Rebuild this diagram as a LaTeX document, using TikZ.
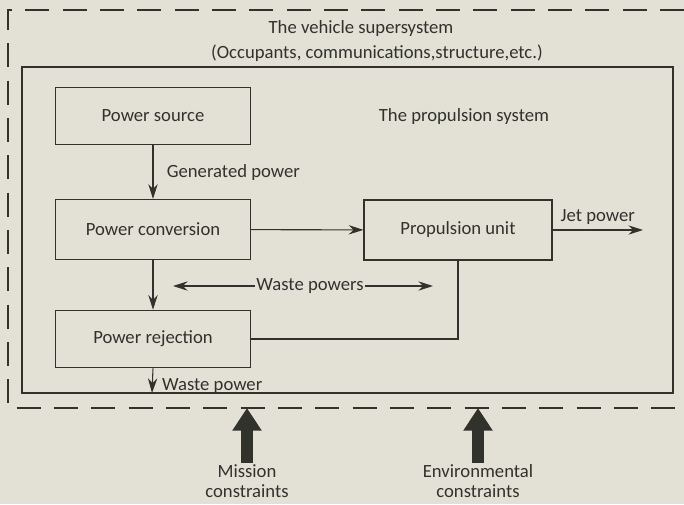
\documentclass[tikz,border=0pt]{standalone}
\usepackage{fontspec}
\setmainfont{Carlito}
\usetikzlibrary{arrows.meta,positioning}
\definecolor{paper}{RGB}{227,225,214}
\definecolor{ink}{RGB}{50,50,45}
\tikzset{
  block/.style ={rectangle,draw=ink,line width=0.9pt,minimum width=146pt,
                 minimum height=43pt,align=center,text=ink,
                 font=\fontsize{14}{16}\selectfont},
  lbl/.style   ={text=ink,inner sep=1pt,align=center,
                 font=\fontsize{14}{16.5}\selectfont},
  arr/.style   ={-{Stealth[length=11pt,width=7pt]},draw=ink,line width=0.8pt},
  link/.style  ={draw=ink,line width=0.8pt},
  bigarr/.style={-{Triangle[length=17pt,width=21pt]},draw=ink,line width=9pt},
  frame/.style ={draw=ink,line width=0.9pt},
  super/.style ={draw=ink,line width=1pt,dash pattern=on 18pt off 10pt}
}
\begin{document}
\begin{tikzpicture}[x=0.75pt,y=-0.75pt]
  \fill[paper] (0,0) rectangle (684,504);
  \useasboundingbox (0,0) rectangle (684,504);

  % Frames
  \draw[super] (684,10) -- (8,10) -- (8,408) -- (684,408);
  \draw[frame] (22,67) rectangle (673,393);
  \coordinate (edge) at (8,408);

  % Nodes
  \node (title)   [lbl] at (361,29)  {The vehicle supersystem};
  \node (occup)   [lbl] at (377,53)  {(Occupants, communications,structure,etc.)};
  \node (propsys) [lbl] at (464,117) {The propulsion system};
  \node (source)  [block] at (153,116) {Power source};
  \node (conv)    [block, minimum height=45pt] at (153,229.5) {Power conversion};
  \node (rej)     [block] at (153,339) {Power rejection};
  \node (prop)    [block, minimum width=141pt, minimum height=45pt] at (458,230) {Propulsion unit};
  \node (waste)   [lbl] at (310,286) {Waste powers};
  \coordinate (wl)    at (173,286);
  \coordinate (wr)    at (433,286);
  \coordinate (jet)   at (643,230);
  \coordinate (drain) at (152,393);
  \node (mission) [lbl, font=\fontsize{14}{15.5}\selectfont] at (247,481) {Mission\\constraints};
  \node (env)     [lbl, font=\fontsize{14}{15.5}\selectfont] at (478,481) {Environmental\\constraints};

  % Arrows
  \draw [arr] (source) -- node[lbl, right=9pt] {Generated power} (conv);
  \draw [arr] (conv) -- (prop);
  \draw [arr] (prop) -- node[lbl, above=3pt] {Jet power} (jet);
  \draw [arr] (conv) -- (rej);
  \draw [arr] (waste) -- (wl);
  \draw [arr] (waste) -- (wr);
  \draw [link] (rej.east) -| (prop.south);
  \draw [arr] (rej.south) -- node[lbl, right=6pt, pos=0.7] {Waste power} (drain);
  \draw [bigarr] (mission.north) -- (mission.north |- edge);
  \draw [bigarr] (env.north) -- (env.north |- edge);
\end{tikzpicture}
\end{document}
